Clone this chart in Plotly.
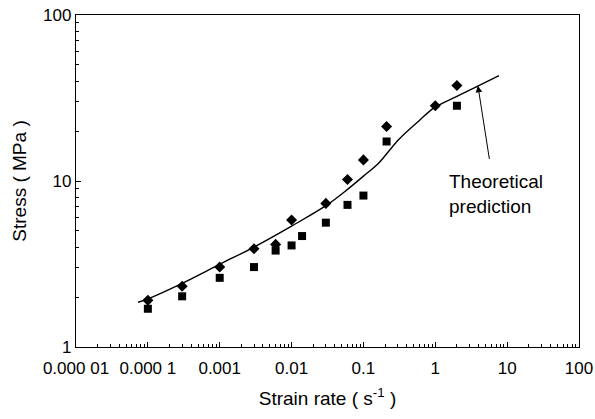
import math
import plotly.graph_objects as go

# ---- data ----
diamond_x = [1e-4, 3e-4, 1e-3, 3e-3, 6e-3, 0.01, 0.03, 0.06, 0.1, 0.21, 1.0, 2.0]
diamond_y = [1.91, 2.32, 3.03, 3.91, 4.15, 5.82, 7.33, 10.2, 13.4, 21.3, 28.4, 37.6]

square_x = [1e-4, 3e-4, 1e-3, 3e-3, 6e-3, 0.01, 0.014, 0.03, 0.06, 0.1, 0.21, 2.0]
square_y = [1.70, 2.02, 2.61, 3.03, 3.81, 4.09, 4.66, 5.61, 7.18, 8.17, 17.3, 28.4]

theory_x = [7.3e-5, 1e-4, 3e-4, 1e-3, 3e-3, 0.01, 0.03, 0.06,
            0.1, 0.165, 0.31, 0.59, 0.96, 1.9, 3.6, 7.7]
theory_y = [1.86, 1.95, 2.42, 3.15, 4.0, 5.35, 7.1, 8.9,
            10.7, 12.9, 17.8, 23.0, 27.6, 32.0, 36.6, 43.1]

x_tickvals = [1e-5, 1e-4, 1e-3, 1e-2, 1e-1, 1, 10, 100]
x_ticktext = ["0.000 01", "0.000 1", "0.001", "0.01", "0.1", "1", "10", "100"]
y_tickvals = [1, 10, 100]
y_ticktext = ["1", "10", "100"]

arrow_tip = (3.92, 37.5)
arrow_tail = (5.7, 13.3)
label_pos = (1.45, 8.4)
label_text = "Theoretical<br>prediction"

FONT = "Liberation Sans, Arial, Helvetica, sans-serif"

fig = go.Figure()
fig.add_trace(go.Scatter(x=theory_x, y=theory_y, mode="lines",
                         line=dict(color="black", width=1.4, shape="spline",
                                   smoothing=1.0),
                         showlegend=False))
fig.add_trace(go.Scatter(x=diamond_x, y=diamond_y, mode="markers",
                         marker=dict(symbol="diamond", size=8.5, color="black"),
                         showlegend=False))
fig.add_trace(go.Scatter(x=square_x, y=square_y, mode="markers",
                         marker=dict(symbol="square", size=8, color="black"),
                         showlegend=False))


def minor_vals(lo, hi):
    vals = []
    for e in range(lo, hi):
        for m in range(2, 10):
            vals.append(m * 10 ** e)
    return vals


fig.update_xaxes(type="log", range=[-5, 2], tickmode="array",
                 tickvals=x_tickvals, ticktext=x_ticktext,
                 ticks="inside", ticklen=5, tickcolor="black", tickwidth=1,
                 minor=dict(ticks="inside", ticklen=3, tickcolor="black",
                            tickvals=minor_vals(-5, 2)),
                 showline=True, linecolor="black", linewidth=1.3, mirror=True,
                 showgrid=False, zeroline=False, automargin=False,
                 ticklabelstandoff=5,
                 tickfont=dict(size=17, color="black", family=FONT),
                 title=dict(text="Strain rate ( s<sup>-1</sup> )",
                            font=dict(size=19, color="black", family=FONT),
                            standoff=15))
fig.update_yaxes(type="log", range=[0, 2], tickmode="array",
                 tickvals=y_tickvals, ticktext=y_ticktext,
                 ticks="inside", ticklen=5, tickcolor="black", tickwidth=1,
                 minor=dict(ticks="inside", ticklen=3, tickcolor="black",
                            tickvals=minor_vals(0, 2)),
                 showline=True, linecolor="black", linewidth=1.3, mirror=True,
                 showgrid=False, zeroline=False, automargin=False,
                 tickfont=dict(size=17, color="black", family=FONT),
                 title=dict(text="Stress ( MPa )",
                            font=dict(size=19, color="black", family=FONT),
                            standoff=11))

fig.add_annotation(x=math.log10(arrow_tip[0]), y=math.log10(arrow_tip[1]),
                   ax=math.log10(arrow_tail[0]), ay=math.log10(arrow_tail[1]),
                   xref="x", yref="y", axref="x", ayref="y",
                   text="", showarrow=True, arrowhead=2, arrowsize=1.3,
                   arrowwidth=1, arrowcolor="black")
fig.add_annotation(x=math.log10(label_pos[0]), y=math.log10(label_pos[1]),
                   xref="x", yref="y", text=label_text, showarrow=False,
                   xanchor="left", yanchor="middle", align="left",
                   font=dict(size=19, color="black", family=FONT))

fig.update_layout(width=595, height=419,
                  margin=dict(l=76, r=16, t=15, b=72),
                  paper_bgcolor="white", plot_bgcolor="white",
                  showlegend=False)

fig.write_html("out.html")
